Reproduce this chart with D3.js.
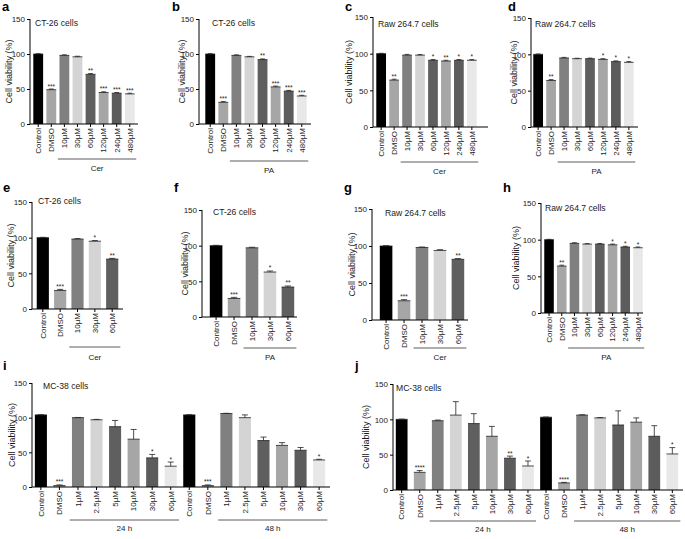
<!DOCTYPE html>
<html><head><meta charset="utf-8">
<script src="https://cdn.jsdelivr.net/npm/d3@7"></script>
<style>
body{margin:0;background:#fff;}
</style></head>
<body><svg id="c" width="685" height="539" font-family="Liberation Sans, Arial, sans-serif"></svg>
<script>
// ---------- DATA ----------
const yTicks = [0, 50, 100, 150];
const concLong = ["Control","DMSO","10µM","30µM","60µM","120µM","240µM","480µM"];
const concShort = ["Control","DMSO","10µM","30µM","60µM"];
const concMC = ["Control","DMSO","1µM","2.5µM","5µM","10µM","30µM","60µM"];

const valsA = [100, 49, 98, 96, 71, 45, 44, 43];
const errsA = [0.5, 1, 0.8, 0.8, 1, 1, 1, 1];
const sigA  = ["", "***", "", "", "**", "***", "***", "***"];

const valsB = [100, 31, 98, 96, 92, 53, 47, 40];
const errsB = [0.5, 1, 0.8, 0.6, 1, 1.2, 1, 1];
const sigB  = ["", "***", "", "", "**", "***", "***", "***"];

const valsC = [100, 64, 98, 98, 91, 90, 91, 91];
const errsC = [0.5, 1.2, 1, 0.8, 1, 1, 1, 1];
const sigC  = ["", "**", "", "", "*", "**", "*", "*"];

const valsD = [100, 64, 95, 94, 94, 93, 90, 89];
const errsD = [0.5, 1.2, 0.8, 0.6, 0.8, 1, 1, 1];
const sigD  = ["", "**", "", "", "", "*", "*", "*"];

const valsE = [100, 26, 98, 95, 70];
const errsE = [0.5, 1.5, 0.8, 1, 1];
const sigE  = ["", "***", "", "*", "**"];

const valsF = [100, 26, 97, 63, 42];
const errsF = [0.5, 1.5, 0.8, 1.5, 1.5];
const sigF  = ["", "***", "", "*", "**"];

const valsG = [100, 26, 98, 94, 82];
const errsG = [0.5, 1.5, 0.6, 1, 1];
const sigG  = ["", "***", "", "", "**"];

const valsH = [100, 64, 95, 94, 94, 93, 90, 89];
const errsH = [0.5, 1.2, 0.8, 0.6, 0.8, 1, 1, 1];
const sigH  = ["", "**", "", "", "", "*", "*", "*"];

const timeGroups = ["24 h", "48 h"];
const valsI24 = [104, 2, 100, 97, 87, 69, 42, 30];
const errsI24 = [0.3, 1, 0.3, 0.5, 9, 14, 5, 6];
const sigI24  = ["", "***", "", "", "", "", "*", "*"];
const valsI48 = [104, 2, 106, 100, 67, 60, 53, 39];
const errsI48 = [0.3, 1, 0.3, 4, 5, 4, 4, 1];
const sigI48  = ["", "***", "", "", "", "", "", "*"];

const valsJ24 = [100, 25, 98, 106, 94, 76, 45, 34];
const errsJ24 = [0.3, 2.5, 1, 19, 14, 14, 3, 7];
const sigJ24  = ["", "****", "", "", "", "", "**", "*"];
const valsJ48 = [103, 10, 106, 102, 92, 96, 76, 51];
const errsJ48 = [0.3, 0.8, 0.5, 0.5, 20, 6, 15, 9];
const sigJ48  = ["", "****", "", "", "", "", "", "*"];

// ---------- STYLE ----------
const fillLong = ["#000000","#a6a6a6","#808080","#d4d4d4","#5f5f5f","#a6a6a6","#5c5c5c","#e8e8e8"];
const fillShort = ["#000000","#a6a6a6","#808080","#d4d4d4","#5f5f5f"];
const INK = "#1a1a1a";

function simple(cats, vals, errs, sig, fills){
  return cats.map((c,i)=>({key:c, label:c, v:vals[i], e:errs[i], s:sig[i], fill:fills[i]}));
}
function twoTime(v24,e24,s24,v48,e48,s48){
  const out=[];
  [[v24,e24,s24],[v48,e48,s48]].forEach(([v,e,s],g)=>{
    concMC.forEach((c,i)=>out.push({key:c+"|"+g, label:c, v:v[i], e:e[i], s:s[i], fill:fillLong[i]}));
  });
  return out;
}

const panels = [
 {id:"a", title:"CT-26 cells", data:simple(concLong,valsA,errsA,sigA,fillLong),
  L:{ax:30,y0:124,y150:19,xEnd:138,b0:32,b1:136,pad:0.25,tx:35,ty:26,lx:2,ly:11,ylx:9,lab:128,gy:159,gly:171},
  groups:[{from:2,to:7,label:"Cer"}]},
 {id:"b", title:"CT-26 cells", data:simple(concLong,valsB,errsB,sigB,fillLong),
  L:{ax:199,y0:124,y150:19,xEnd:311,b0:204,b1:308,pad:0.25,tx:212,ty:26,lx:172,ly:11,ylx:182,lab:128,gy:161,gly:173},
  groups:[{from:2,to:7,label:"PA"}]},
 {id:"c", title:"Raw 264.7 cells", data:simple(concLong,valsC,errsC,sigC,fillLong),
  L:{ax:373,y0:127,y150:17,xEnd:488,b0:375,b1:478,pad:0.25,tx:378,ty:27,lx:345,ly:11,ylx:349,lab:131,gy:162,gly:174},
  groups:[{from:2,to:7,label:"Cer"}]},
 {id:"d", title:"Raw 264.7 cells", data:simple(concLong,valsD,errsD,sigD,fillLong),
  L:{ax:531,y0:127,y150:18,xEnd:638,b0:532,b1:635,pad:0.25,tx:535,ty:27,lx:508,ly:11,ylx:514,lab:131,gy:162,gly:174},
  groups:[{from:2,to:7,label:"PA"}]},
 {id:"e", title:"CT-26 cells", data:simple(concShort,valsE,errsE,sigE,fillShort),
  L:{ax:32,y0:309,y150:202,xEnd:123,b0:35,b1:120,pad:0.3,tx:38,ty:204,lx:3,ly:192,ylx:11,lab:313,gy:347,gly:360},
  groups:[{from:2,to:4,label:"Cer"}]},
 {id:"f", title:"CT-26 cells", data:simple(concShort,valsF,errsF,sigF,fillShort),
  L:{ax:202,y0:317,y150:210,xEnd:297,b0:208,b1:296,pad:0.3,tx:213,ty:215,lx:174,ly:192,ylx:185,lab:321,gy:348,gly:360},
  groups:[{from:2,to:4,label:"PA"}]},
 {id:"g", title:"Raw 264.7 cells", data:simple(concShort,valsG,errsG,sigG,fillShort),
  L:{ax:372,y0:320,y150:209,xEnd:468,b0:378,b1:466,pad:0.3,tx:385,ty:216,lx:344,ly:192,ylx:352,lab:324,gy:348,gly:360},
  groups:[{from:2,to:4,label:"Cer"}]},
 {id:"h", title:"Raw 264.7 cells", data:simple(concLong,valsH,errsH,sigH,fillLong),
  L:{ax:541,y0:313,y150:203,xEnd:643,b0:543,b1:644,pad:0.25,tx:545,ty:211,lx:503,ly:192,ylx:516,lab:317,gy:348,gly:360},
  groups:[{from:2,to:7,label:"PA"}]},
 {id:"i", title:"MC-38 cells", data:twoTime(valsI24,errsI24,sigI24,valsI48,errsI48,sigI48),
  L:{ax:32,y0:487,y150:383,xEnd:330,b0:33,b1:327,pad:0.35,tx:43,ty:389,lx:3,ly:370,ylx:12,lab:491,gy:520,gly:531},
  groups:[{from:2,to:7,label:timeGroups[0]},{from:10,to:15,label:timeGroups[1]}]},
 {id:"j", title:"MC-38 cells", data:twoTime(valsJ24,errsJ24,sigJ24,valsJ48,errsJ48,sigJ48),
  L:{ax:393,y0:490,y150:384,xEnd:683,b0:394,b1:680,pad:0.35,tx:396,ty:391,lx:355,ly:370,ylx:366,lab:494,gy:521,gly:532},
  groups:[{from:2,to:7,label:timeGroups[0]},{from:10,to:15,label:timeGroups[1]}]}
];

const svg = d3.select("#c");

panels.forEach(p=>{
  const L = p.L;
  const g = svg.append("g").attr("class","panel");
  const y = d3.scaleLinear().domain([0,150]).range([L.y0, L.y150]);
  const x = d3.scaleBand().domain(p.data.map(d=>d.key)).range([L.b0, L.b1]).paddingInner(L.pad).paddingOuter(0.1);
  const bw = x.bandwidth();

  g.append("text").attr("x",L.lx).attr("y",L.ly).text(p.id)
   .attr("font-size",13).attr("font-weight","bold").attr("fill","#000");
  g.append("text").attr("x",L.tx).attr("y",L.ty).text(p.title).attr("font-size",8.6).attr("fill",INK);
  g.append("text")
   .attr("transform",`translate(${L.ylx},${(L.y0+L.y150)/2}) rotate(-90)`)
   .attr("text-anchor","middle").attr("dy","0.35em").text("Cell viability (%)")
   .attr("font-size",9).attr("fill",INK);

  g.selectAll("rect.bar").data(p.data).join("rect").attr("class","bar")
   .attr("x",d=>x(d.key)).attr("width",bw)
   .attr("y",d=>y(d.v)).attr("height",d=>L.y0-y(d.v))
   .attr("fill",d=>d.fill);
  g.selectAll("line.top").data(p.data).join("line").attr("class","top")
   .attr("x1",d=>x(d.key)).attr("x2",d=>x(d.key)+bw)
   .attr("y1",d=>y(d.v)).attr("y2",d=>y(d.v))
   .attr("stroke","#222").attr("stroke-width",0.8);
  const eb = g.selectAll("g.err").data(p.data).join("g").attr("class","err");
  eb.append("line").attr("x1",d=>x(d.key)+bw/2).attr("x2",d=>x(d.key)+bw/2)
   .attr("y1",d=>y(d.v)).attr("y2",d=>y(d.v+d.e)).attr("stroke","#222").attr("stroke-width",0.8);
  eb.append("line").attr("x1",d=>x(d.key)+bw/2-bw*0.25).attr("x2",d=>x(d.key)+bw/2+bw*0.25)
   .attr("y1",d=>y(d.v+d.e)).attr("y2",d=>y(d.v+d.e)).attr("stroke","#222").attr("stroke-width",0.8);
  g.selectAll("text.sig").data(p.data.filter(d=>d.s)).join("text").attr("class","sig")
   .attr("x",d=>x(d.key)+bw/2).attr("y",d=>y(d.v+d.e)-0.5)
   .attr("text-anchor","middle").text(d=>d.s).attr("font-size",6.5).attr("fill",INK);

  const ya = d3.axisLeft(y).tickValues(yTicks).tickSize(3).tickPadding(2);
  const yg = g.append("g").attr("class","yaxis").attr("transform",`translate(${L.ax},0)`).call(ya);
  yg.attr("font-size",8).attr("font-family","Liberation Sans, Arial, sans-serif");
  yg.select(".domain").attr("d",`M0,${L.y0}V${L.y150}`);
  yg.selectAll(".tick text").attr("fill",INK).attr("dy","0.35em");

  const xa = d3.axisBottom(x).tickSize(3).tickFormat(()=>"");
  const xg = g.append("g").attr("transform",`translate(0,${L.y0})`).call(xa);
  xg.select(".domain").attr("d",`M${L.ax},0H${L.xEnd}`);
  g.selectAll("text.xl").data(p.data).join("text").attr("class","xl")
   .attr("transform",d=>`translate(${x(d.key)+bw/2},${L.lab}) rotate(-90)`)
   .attr("text-anchor","end").attr("dy","0.35em").text(d=>d.label).attr("font-size",8).attr("fill",INK);
  p.groups.forEach(gr=>{
    const k0 = p.data[gr.from].key, k1 = p.data[gr.to].key;
    const x1 = x(k0)-x.step()*0.12, x2 = x(k1)+bw+x.step()*0.12;
    g.append("line").attr("x1",x1).attr("x2",x2).attr("y1",L.gy).attr("y2",L.gy)
     .attr("stroke","#333").attr("stroke-width",0.8);
    g.append("text").attr("x",(x1+x2)/2).attr("y",L.gly).attr("text-anchor","middle")
     .text(gr.label).attr("font-size",8).attr("fill",INK);
  });
});
</script></body></html>
